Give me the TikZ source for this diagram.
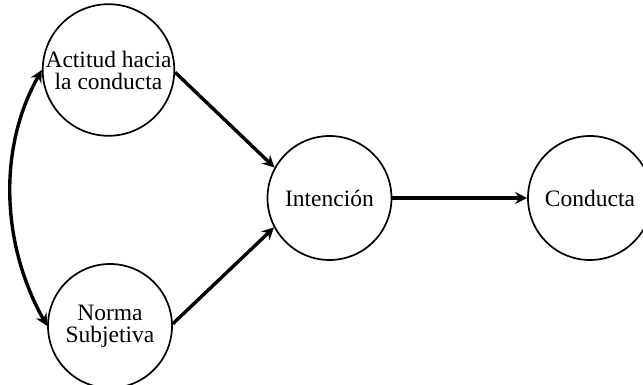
\documentclass[tikz,border=0pt]{standalone}
\usepackage{fontspec}
\setmainfont{Liberation Serif}
\usetikzlibrary{arrows.meta}
\begin{document}
\begin{tikzpicture}[x=1pt,y=1pt,
  state/.style={circle, draw, line width=1.7pt, minimum size=124pt, inner sep=0pt,
    align=center, font=\fontsize{23.5}{22}\selectfont},
  tip/.style={Stealth[length=12pt,width=12pt,inset=4pt]},
  link/.style={line width=3.4pt, -{Stealth[length=12pt,width=12pt,inset=4pt]}},
  both/.style={line width=3.4pt, {Stealth[length=12pt,width=12pt,inset=4pt]}-{Stealth[length=12pt,width=12pt,inset=4pt]}}]
  \useasboundingbox (0,0) rectangle (643,385);
  % the four constructs
  \node[state] (act)  at (108.5,315) {Actitud hacia\\la conducta};
  \node[state] (norm) at (110,59)    {Norma\\Subjetiva};
  \node[state] (int)  at (329.5,187) {Intención};
  \node[state] (con)  at (590,187)   {Conducta};
  % paths of influence
  \draw[link] (act.-2) -- (int.151);
  \draw[link] (norm.2) -- (int.208);
  \draw[link] (int.east) -- (con.west);
  % correlation between attitude and subjective norm
  \draw[both] (act.west) .. controls +(-45,-80) and +(-45,80) .. (norm.west);
\end{tikzpicture}
\end{document}
